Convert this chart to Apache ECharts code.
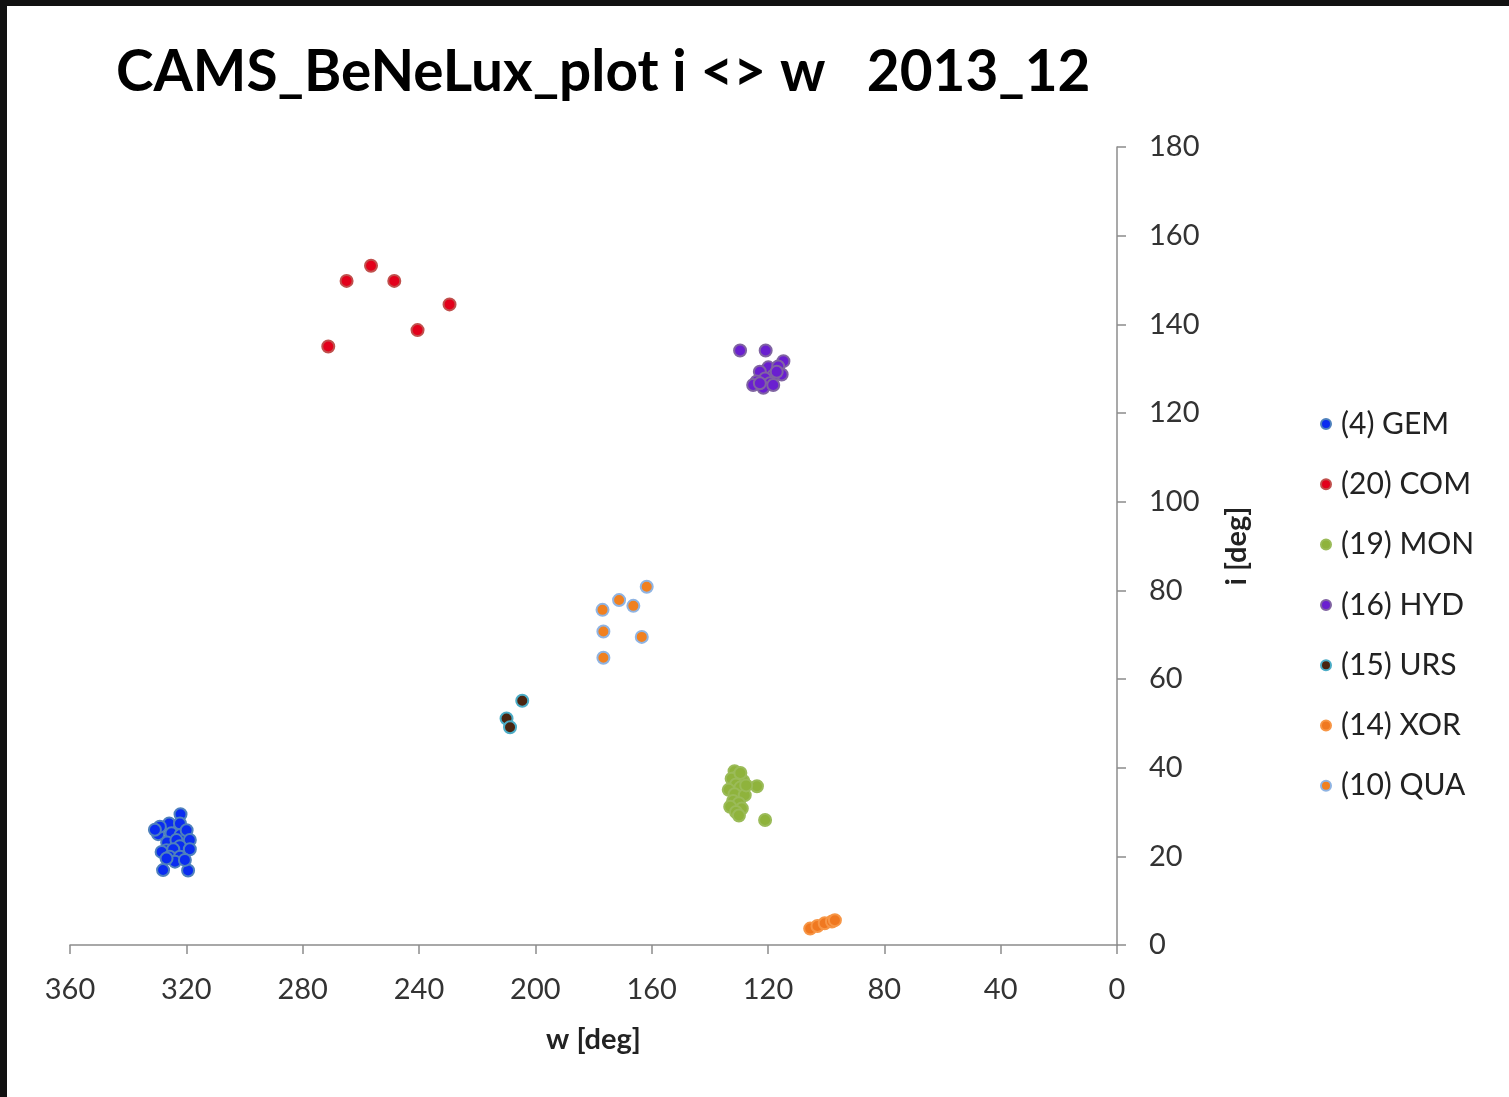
<!DOCTYPE html>
<html>
<head>
<meta charset="utf-8">
<script src="https://cdn.jsdelivr.net/npm/echarts@6/dist/echarts.min.js"></script>
<style>
  html, body { margin: 0; padding: 0; background: #111; }
  #frame { position: absolute; left: 0; top: 0; width: 1509px; height: 1097px; background: #111; }
  #chart { position: absolute; left: 7px; top: 6px; width: 1502px; height: 1091px; background: #fff; }
</style>
</head>
<body>
<div id="frame"><div id="chart"></div></div>
<script>
// [w, i] pairs per shower
const gem = [
  [322.0, 29.5], [325.9, 27.4], [322.2, 27.4], [329.7, 25.0], [325.1, 25.2],
  [322.0, 24.8], [319.9, 25.9], [326.6, 23.1], [323.4, 23.7], [318.8, 23.7],
  [326.8, 21.4], [322.2, 22.3], [328.5, 21.0], [324.5, 21.6], [318.8, 21.6],
  [325.7, 19.9], [322.2, 19.9], [323.9, 18.8], [328.0, 16.9], [319.4, 16.8],
  [329.1, 26.7], [326.8, 19.5], [320.5, 19.2], [330.8, 26.0]
];
const com = [
  [256.5, 153.2], [264.9, 149.8], [248.5, 149.8], [229.5, 144.5], [240.5, 138.7], [271.2, 135.0]
];
const mon = [
  [131.5, 39.2], [130.5, 38.0], [132.5, 37.5], [128.5, 37.0], [131.0, 36.2],
  [133.5, 35.0], [129.5, 35.5], [123.8, 35.8], [131.5, 34.0], [128.0, 33.8],
  [132.0, 32.5], [130.0, 32.0], [133.0, 31.2], [129.0, 30.8], [131.0, 30.0],
  [130.0, 29.2], [127.5, 36.0], [121.0, 28.2], [129.5, 38.8]
];
const hyd = [
  [129.6, 134.1], [120.8, 134.1], [114.7, 131.7], [119.9, 130.3], [116.5, 130.5],
  [122.8, 129.3], [115.3, 128.7], [118.2, 128.4], [121.0, 127.8], [123.9, 127.1],
  [119.3, 126.7], [125.1, 126.3], [121.6, 125.7], [118.2, 126.3], [122.8, 126.7],
  [117.0, 129.3]
];
const urs = [[204.5, 55.1], [209.9, 51.1], [208.7, 49.1]];
const xor = [[105.5, 3.7], [103.0, 4.3], [100.5, 4.9], [98.0, 5.3], [97.0, 5.6]];
const qua = [
  [161.7, 80.8], [171.2, 77.8], [166.3, 76.5], [176.9, 75.6], [176.6, 70.7], [163.4, 69.5], [176.6, 64.8]
];

const seriesNames = ['(4) GEM', '(20) COM', '(19) MON', '(16) HYD', '(15) URS', '(14) XOR', '(10) QUA'];
const seriesData = [gem, com, mon, hyd, urs, xor, qua];
const fills = ['#0a2cf0', '#e3001b', '#8fb33c', '#6a1fd0', '#4a2410', '#f07820', '#f08020'];
const borders = ['#4f81bd', '#c0504d', '#9bbb59', '#8064a2', '#4bacc6', '#f79646', '#8fb4e3'];

const xTicks = [0, 360, 40];
const yTicks = [0, 180, 20];

const chart = echarts.init(document.getElementById('chart'));
const font = 'Lato, "Open Sans", sans-serif';

chart.setOption({
  animation: false,
  title: {
    text: 'CAMS_BeNeLux_plot i <> w   2013_12',
    left: 104, top: 33,
    textStyle: { fontFamily: font, fontWeight: 'bold', fontSize: 56.7, color: '#000' }
  },
  legend: {
    orient: 'vertical',
    left: 1308, top: 398,
    itemWidth: 20, itemHeight: 10, itemGap: 30.3,
    icon: 'circle',
    data: seriesNames,
    textStyle: { fontFamily: font, fontSize: 30, color: '#222', lineHeight: 30 }
  },
  grid: { left: 63, right: 392, top: 141, bottom: 152 },
  xAxis: {
    type: 'value', inverse: true,
    min: xTicks[0], max: xTicks[1], interval: xTicks[2],
    name: 'w [deg]', nameLocation: 'middle', nameGap: 80,
    nameTextStyle: { fontFamily: font, fontWeight: 'bold', fontSize: 29, color: '#222' },
    axisLine: { onZero: false, lineStyle: { color: '#8c8c8c', width: 1.5 } },
    axisTick: { show: true, length: 9, lineStyle: { color: '#8c8c8c', width: 1.5 } },
    axisLabel: { margin: 30, fontFamily: font, fontSize: 29, color: '#333' },
    splitLine: { show: false }
  },
  yAxis: {
    type: 'value', position: 'right',
    min: yTicks[0], max: yTicks[1], interval: yTicks[2],
    name: 'i [deg]', nameLocation: 'middle', nameGap: 105, nameRotate: 90,
    nameTextStyle: { fontFamily: font, fontWeight: 'bold', fontSize: 29, color: '#222' },
    axisLine: { show: true, onZero: false, lineStyle: { color: '#8c8c8c', width: 1.5 } },
    axisTick: { show: true, length: 9, lineStyle: { color: '#8c8c8c', width: 1.5 } },
    axisLabel: { margin: 32, fontFamily: font, fontSize: 29, color: '#333' },
    splitLine: { show: false }
  },
  series: seriesNames.map((name, k) => ({
    name: name,
    type: 'scatter',
    symbol: 'circle',
    symbolSize: 12,
    data: seriesData[k],
    itemStyle: { color: fills[k], borderColor: borders[k], borderWidth: 2, opacity: 1 }
  }))
});
</script>
</body>
</html>
